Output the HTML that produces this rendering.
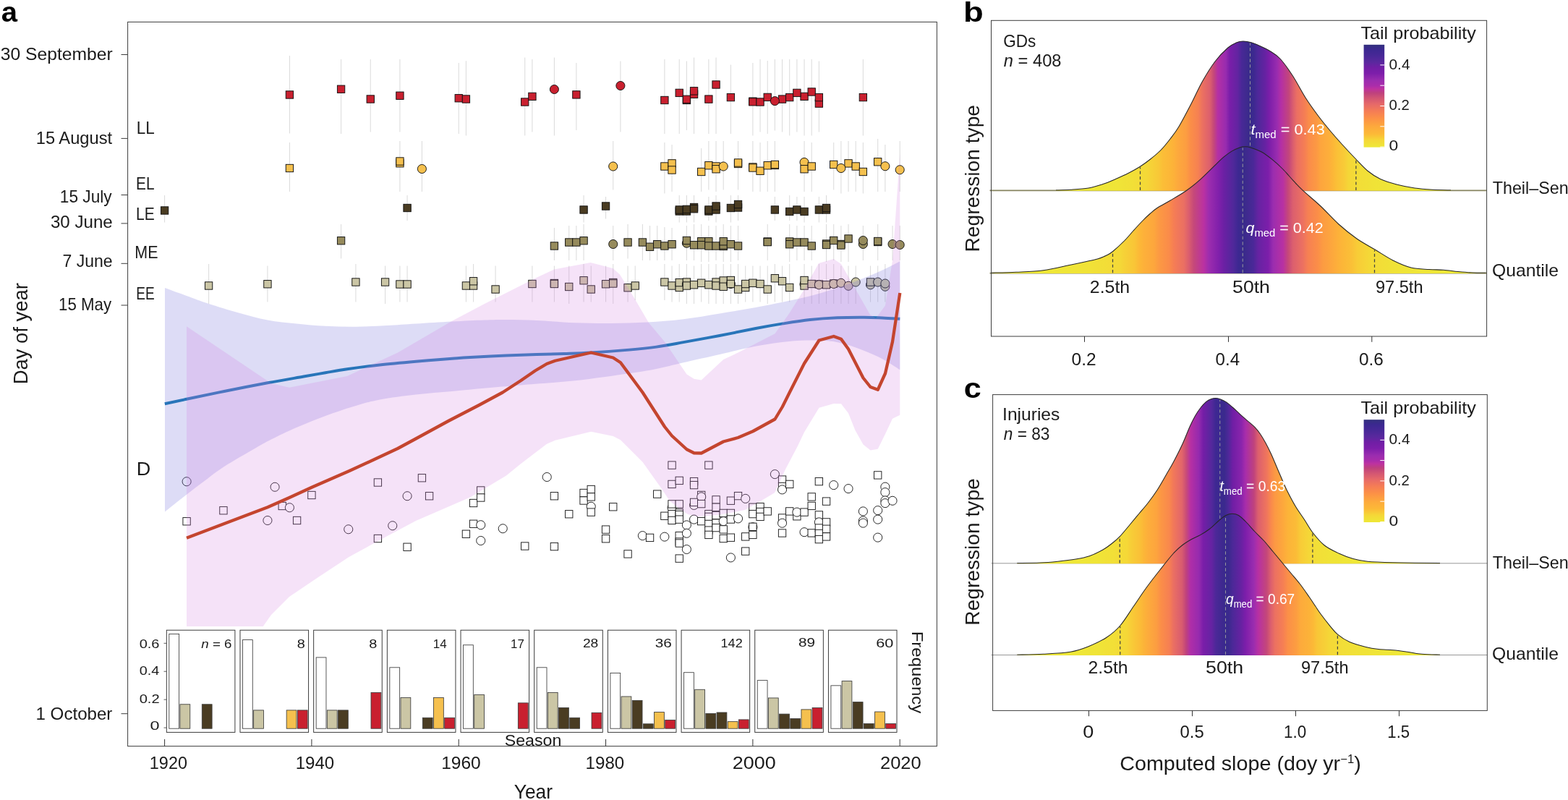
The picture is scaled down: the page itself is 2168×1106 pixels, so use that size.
<!DOCTYPE html>
<html lang="en"><head><meta charset="utf-8"><title>Figure</title>
<style>
html,body{margin:0;padding:0;background:#fff;}
body{width:2168px;height:1106px;overflow:hidden;}
svg{display:block;}
svg text{font-family:"Liberation Sans", sans-serif;fill:#1a1a1a;}
</style></head><body>
<svg width="2168" height="1106" viewBox="0 0 2168 1106">
<rect width="2168" height="1106" fill="#fff"/>
<g id="panelA">
<g stroke="#dcdcdc" stroke-width="1.05" fill="none">
<path d="M400.42,77V184.5M471.58,82V185M512.25,82V182.5M552.91,82V182.5M634.24,87V185M644.41,84.25V187.5M725.73,79.4V187.5M735.9,82V182.5M766.4,79.4V187.5M796.9,87V180M857.89,84.4V182.5M918.89,82V185M939.22,82V185M949.39,84.4V180M959.55,79.4V185M979.88,82V185M990.05,79.4V185M1010.38,89.4V185M1040.88,87V187.5M1051.05,82V182.5M1061.21,84V185M1081.54,82V182.5M1071.38,82V180.6M1091.71,82V187.5M1112.04,82V187.5M1101.88,82V182.5M1122.21,82V187.5M1132.37,84.4V182.5M1193.37,82V187.5M400.42,197V265M552.91,195V265M583.41,195V265M847.73,195V262.5M918.89,197V267.5M929.05,200V265M969.72,205V265M979.88,195V262.5M990.05,195V265M1000.22,195V262.5M1020.55,195V262.5M1040.88,195V265M1051.05,197V265M1061.21,195V265M1071.38,195V265M1112.04,195V265M1122.21,197V265M1152.71,197V262.5M1173.04,195V265M1162.87,195V267.5M1183.2,195V265M1193.37,197V267.5M1213.7,192V265M1223.87,200V265M1244.2,195V265M227.6,270V307.5M563.08,270V305M807.06,270V307.5M837.56,272V302.5M939.22,270V307.5M949.39,270V307.5M959.55,270V307.5M979.88,272V305M990.05,270V307.5M1010.38,270V307.5M1020.55,270V305M1071.38,272V305M1091.71,270V305M1101.88,272V305M1112.04,272V307.5M1132.37,272V307.5M1142.54,270V307.5M471.58,310V357.5M766.4,315V360M786.73,312V360M796.9,312V360M807.06,310V360M847.73,312V360M868.06,310V357.5M888.39,310V360M898.56,312V360M908.72,312V360M918.89,314V360M929.05,315V360M949.39,312V360M959.55,310V360M969.72,310V362M979.88,312V362M990.05,312V360M1000.22,310V362M1010.38,312V362M1020.55,312V360M1061.21,310V360M1091.71,310V362M1101.88,312V360M1112.04,312V360M1122.21,312V360M1142.54,310V362M1162.87,312V362M1152.71,310V360M1173.04,310V362M1193.37,312V360M1213.7,310V360M1234.03,312V360M1244.2,312V360M288.6,365V420M369.92,367.5V417.5M491.92,365V417.5M532.58,367.5V420M552.91,367.5V417.5M563.08,367.5V417.5M644.41,367.5V417.5M654.57,365V417.5M685.07,367.5V417.5M735.9,367.5V417.5M766.4,367.5V417.5M786.73,367.5V420M807.06,365V417.5M817.23,367.5V417.5M837.56,367.5V417.5M847.73,365V420M868.06,367.5V417.5M878.22,367.5V415M918.89,365V415M929.05,367.5V417.5M939.22,365V417.5M949.39,365V420M959.55,367.5V420M969.72,365V417.5M979.88,365V420M990.05,365V420M1000.22,365V420M1010.38,365V420M1020.55,365V420M1030.71,367.5V417.5M1040.88,367.5V417.5M1051.05,367.5V417.5M1061.21,367.5V420M1071.38,365V417.5M1081.54,367.5V417.5M1091.71,365V417.5M1112.04,365V420M1122.21,367.5V420M1132.37,365V420M1142.54,365V420M1152.71,365V420M1162.87,367.5V420M1173.04,367.5V420M1183.2,367.5V420M1203.54,367.5V417.5M1213.7,367.5V417.5M1223.87,365V417.5"/>
</g>
<g fill="#ffffff" fill-opacity="1" stroke="#1c1c1c" stroke-width="0.95">
<circle cx="258.1" cy="665.75" r="6.05"/>
<rect x="252.92" y="715.58" width="10.35" height="10.35"/>
<rect x="303.75" y="700.58" width="10.35" height="10.35"/>
<circle cx="380.09" cy="673.25" r="6.05"/>
<circle cx="369.92" cy="719.5" r="6.05"/>
<rect x="385.08" y="694.33" width="10.35" height="10.35"/>
<circle cx="400.42" cy="701.75" r="6.05"/>
<rect x="405.41" y="714.33" width="10.35" height="10.35"/>
<rect x="425.74" y="679.33" width="10.35" height="10.35"/>
<circle cx="481.75" cy="731.75" r="6.05"/>
<rect x="517.24" y="661.83" width="10.35" height="10.35"/>
<rect x="517.24" y="739.33" width="10.35" height="10.35"/>
<circle cx="542.75" cy="726.75" r="6.05"/>
<rect x="557.9" y="751.08" width="10.35" height="10.35"/>
<circle cx="563.08" cy="685.75" r="6.05"/>
<rect x="578.24" y="655.58" width="10.35" height="10.35"/>
<rect x="588.4" y="680.58" width="10.35" height="10.35"/>
<rect x="639.23" y="733.08" width="10.35" height="10.35"/>
<rect x="649.4" y="690.33" width="10.35" height="10.35"/>
<rect x="649.4" y="719.08" width="10.35" height="10.35"/>
<rect x="659.56" y="672.83" width="10.35" height="10.35"/>
<rect x="659.56" y="682.83" width="10.35" height="10.35"/>
<circle cx="664.74" cy="725.75" r="6.05"/>
<circle cx="664.74" cy="747.5" r="6.05"/>
<circle cx="695.24" cy="730.75" r="6.05"/>
<rect x="720.56" y="749.83" width="10.35" height="10.35"/>
<circle cx="756.23" cy="659.5" r="6.05"/>
<rect x="761.22" y="680.58" width="10.35" height="10.35"/>
<rect x="761.22" y="750.43" width="10.35" height="10.35"/>
<rect x="781.56" y="705.58" width="10.35" height="10.35"/>
<rect x="801.89" y="676.33" width="10.35" height="10.35"/>
<rect x="801.89" y="686.83" width="10.35" height="10.35"/>
<circle cx="817.23" cy="700.25" r="6.05"/>
<rect x="812.05" y="671.33" width="10.35" height="10.35"/>
<rect x="812.05" y="681.73" width="10.35" height="10.35"/>
<rect x="812.05" y="702.93" width="10.35" height="10.35"/>
<rect x="842.55" y="695.58" width="10.35" height="10.35"/>
<rect x="832.39" y="726.93" width="10.35" height="10.35"/>
<rect x="832.39" y="739.58" width="10.35" height="10.35"/>
<rect x="862.88" y="760.73" width="10.35" height="10.35"/>
<rect x="903.55" y="677.93" width="10.35" height="10.35"/>
<circle cx="888.39" cy="740.6" r="6.05"/>
<rect x="893.38" y="738.23" width="10.35" height="10.35"/>
<rect x="913.71" y="708.08" width="10.35" height="10.35"/>
<circle cx="918.89" cy="742.1" r="6.05"/>
<circle cx="929.05" cy="701.9" r="6.05"/>
<rect x="923.88" y="637.93" width="10.35" height="10.35"/>
<rect x="923.88" y="664.23" width="10.35" height="10.35"/>
<rect x="923.88" y="691.73" width="10.35" height="10.35"/>
<rect x="923.88" y="705.43" width="10.35" height="10.35"/>
<rect x="923.88" y="714.23" width="10.35" height="10.35"/>
<rect x="934.05" y="659.23" width="10.35" height="10.35"/>
<rect x="934.05" y="691.73" width="10.35" height="10.35"/>
<rect x="934.05" y="703.83" width="10.35" height="10.35"/>
<rect x="934.05" y="706.33" width="10.35" height="10.35"/>
<rect x="934.05" y="712.93" width="10.35" height="10.35"/>
<rect x="934.05" y="735.43" width="10.35" height="10.35"/>
<rect x="934.05" y="743.83" width="10.35" height="10.35"/>
<rect x="934.05" y="745.83" width="10.35" height="10.35"/>
<rect x="934.05" y="766.93" width="10.35" height="10.35"/>
<circle cx="949.39" cy="725.9" r="6.05"/>
<circle cx="949.39" cy="737.25" r="6.05"/>
<circle cx="949.39" cy="759.5" r="6.05"/>
<rect x="954.38" y="660.43" width="10.35" height="10.35"/>
<rect x="954.38" y="665.43" width="10.35" height="10.35"/>
<circle cx="959.55" cy="698.4" r="6.05"/>
<rect x="954.38" y="689.23" width="10.35" height="10.35"/>
<circle cx="959.55" cy="718.1" r="6.05"/>
<rect x="964.54" y="679.23" width="10.35" height="10.35"/>
<circle cx="969.72" cy="686.9" r="6.05"/>
<rect x="964.54" y="691.43" width="10.35" height="10.35"/>
<rect x="964.54" y="715.43" width="10.35" height="10.35"/>
<rect x="974.71" y="637.93" width="10.35" height="10.35"/>
<rect x="974.71" y="705.43" width="10.35" height="10.35"/>
<rect x="974.71" y="709.23" width="10.35" height="10.35"/>
<rect x="974.71" y="719.23" width="10.35" height="10.35"/>
<rect x="974.71" y="727.93" width="10.35" height="10.35"/>
<rect x="974.71" y="734.23" width="10.35" height="10.35"/>
<rect x="984.88" y="685.73" width="10.35" height="10.35"/>
<rect x="984.88" y="696.08" width="10.35" height="10.35"/>
<rect x="984.88" y="707.33" width="10.35" height="10.35"/>
<rect x="984.88" y="717.93" width="10.35" height="10.35"/>
<rect x="984.88" y="724.43" width="10.35" height="10.35"/>
<rect x="995.04" y="704.23" width="10.35" height="10.35"/>
<circle cx="1000.22" cy="720.6" r="6.05"/>
<rect x="995.04" y="726.73" width="10.35" height="10.35"/>
<rect x="995.04" y="739.33" width="10.35" height="10.35"/>
<rect x="1005.21" y="687.03" width="10.35" height="10.35"/>
<rect x="1005.21" y="704.23" width="10.35" height="10.35"/>
<rect x="1005.21" y="712.83" width="10.35" height="10.35"/>
<rect x="1005.21" y="738.03" width="10.35" height="10.35"/>
<circle cx="1010.38" cy="770.9" r="6.05"/>
<rect x="1015.37" y="680.43" width="10.35" height="10.35"/>
<circle cx="1020.55" cy="716.9" r="6.05"/>
<circle cx="1030.71" cy="689.4" r="6.05"/>
<rect x="1025.54" y="736.73" width="10.35" height="10.35"/>
<rect x="1025.54" y="756.93" width="10.35" height="10.35"/>
<rect x="1035.7" y="696.08" width="10.35" height="10.35"/>
<rect x="1035.7" y="705.43" width="10.35" height="10.35"/>
<circle cx="1040.88" cy="728.75" r="6.05"/>
<rect x="1035.7" y="723.12" width="10.35" height="10.35"/>
<rect x="1035.7" y="734.23" width="10.35" height="10.35"/>
<rect x="1045.87" y="695.43" width="10.35" height="10.35"/>
<rect x="1045.87" y="702.33" width="10.35" height="10.35"/>
<rect x="1045.87" y="709.23" width="10.35" height="10.35"/>
<rect x="1056.04" y="701.73" width="10.35" height="10.35"/>
<circle cx="1071.38" cy="655.6" r="6.05"/>
<rect x="1076.37" y="657.93" width="10.35" height="10.35"/>
<rect x="1076.37" y="667.33" width="10.35" height="10.35"/>
<circle cx="1081.54" cy="676.9" r="6.05"/>
<rect x="1076.37" y="710.83" width="10.35" height="10.35"/>
<circle cx="1081.54" cy="723.2" r="6.05"/>
<rect x="1076.37" y="731.83" width="10.35" height="10.35"/>
<rect x="1086.54" y="664.23" width="10.35" height="10.35"/>
<rect x="1086.54" y="701.73" width="10.35" height="10.35"/>
<rect x="1096.7" y="708.58" width="10.35" height="10.35"/>
<circle cx="1101.88" cy="708.1" r="6.05"/>
<rect x="1106.87" y="702.93" width="10.35" height="10.35"/>
<circle cx="1112.04" cy="735.7" r="6.05"/>
<rect x="1117.03" y="681.73" width="10.35" height="10.35"/>
<rect x="1117.03" y="694.23" width="10.35" height="10.35"/>
<rect x="1117.03" y="731.73" width="10.35" height="10.35"/>
<rect x="1127.2" y="660.43" width="10.35" height="10.35"/>
<rect x="1127.2" y="706.73" width="10.35" height="10.35"/>
<circle cx="1132.37" cy="721.9" r="6.05"/>
<rect x="1127.2" y="724.83" width="10.35" height="10.35"/>
<rect x="1127.2" y="732.33" width="10.35" height="10.35"/>
<rect x="1127.2" y="740.43" width="10.35" height="10.35"/>
<rect x="1137.37" y="687.93" width="10.35" height="10.35"/>
<rect x="1137.37" y="716.73" width="10.35" height="10.35"/>
<rect x="1137.37" y="726.08" width="10.35" height="10.35"/>
<rect x="1137.37" y="736.73" width="10.35" height="10.35"/>
<circle cx="1152.71" cy="670.6" r="6.05"/>
<circle cx="1173.04" cy="675.6" r="6.05"/>
<circle cx="1193.37" cy="706.9" r="6.05"/>
<circle cx="1193.37" cy="720" r="6.05"/>
<circle cx="1193.37" cy="723.1" r="6.05"/>
<rect x="1208.53" y="651.73" width="10.35" height="10.35"/>
<circle cx="1213.7" cy="705.6" r="6.05"/>
<circle cx="1213.7" cy="718.1" r="6.05"/>
<circle cx="1213.7" cy="743.1" r="6.05"/>
<circle cx="1223.87" cy="673.1" r="6.05"/>
<circle cx="1223.87" cy="680.6" r="6.05"/>
<circle cx="1223.87" cy="691.9" r="6.05"/>
<circle cx="1223.87" cy="695.6" r="6.05"/>
<circle cx="1234.03" cy="692.25" r="6.05"/>
</g>
<g fill="#cbc6a5" fill-opacity="1" stroke="#111" stroke-width="0.95">
<rect x="283.42" y="389.82" width="10.35" height="10.35"/>
<rect x="364.75" y="387.57" width="10.35" height="10.35"/>
<rect x="486.74" y="384.82" width="10.35" height="10.35"/>
<rect x="527.41" y="384.82" width="10.35" height="10.35"/>
<rect x="547.74" y="387.82" width="10.35" height="10.35"/>
<rect x="557.9" y="387.82" width="10.35" height="10.35"/>
<rect x="639.23" y="389.82" width="10.35" height="10.35"/>
<rect x="649.4" y="389.82" width="10.35" height="10.35"/>
<rect x="649.4" y="383.57" width="10.35" height="10.35"/>
<rect x="679.9" y="394.82" width="10.35" height="10.35"/>
<rect x="730.73" y="387.32" width="10.35" height="10.35"/>
<rect x="761.22" y="386.32" width="10.35" height="10.35"/>
<rect x="761.22" y="387.32" width="10.35" height="10.35"/>
<rect x="781.56" y="391.32" width="10.35" height="10.35"/>
<rect x="801.89" y="382.57" width="10.35" height="10.35"/>
<rect x="812.05" y="394.82" width="10.35" height="10.35"/>
<rect x="832.39" y="387.57" width="10.35" height="10.35"/>
<rect x="842.55" y="385.32" width="10.35" height="10.35"/>
<rect x="842.55" y="386.82" width="10.35" height="10.35"/>
<rect x="862.88" y="392.57" width="10.35" height="10.35"/>
<rect x="873.05" y="389.82" width="10.35" height="10.35"/>
<rect x="913.71" y="384.82" width="10.35" height="10.35"/>
<rect x="923.88" y="389.82" width="10.35" height="10.35"/>
<rect x="934.05" y="392.32" width="10.35" height="10.35"/>
<rect x="934.05" y="385.43" width="10.35" height="10.35"/>
<circle cx="949.39" cy="393" r="6.05"/>
<rect x="944.21" y="384.82" width="10.35" height="10.35"/>
<rect x="944.21" y="389.82" width="10.35" height="10.35"/>
<rect x="954.38" y="388.57" width="10.35" height="10.35"/>
<rect x="964.54" y="386.07" width="10.35" height="10.35"/>
<rect x="974.71" y="388.57" width="10.35" height="10.35"/>
<rect x="984.88" y="384.82" width="10.35" height="10.35"/>
<rect x="984.88" y="389.82" width="10.35" height="10.35"/>
<rect x="995.04" y="382.82" width="10.35" height="10.35"/>
<rect x="995.04" y="391.07" width="10.35" height="10.35"/>
<circle cx="1010.38" cy="392.5" r="6.05"/>
<rect x="1005.21" y="382.32" width="10.35" height="10.35"/>
<rect x="1005.21" y="387.32" width="10.35" height="10.35"/>
<rect x="1015.37" y="394.82" width="10.35" height="10.35"/>
<rect x="1025.54" y="392.32" width="10.35" height="10.35"/>
<rect x="1025.54" y="387.32" width="10.35" height="10.35"/>
<rect x="1035.7" y="386.07" width="10.35" height="10.35"/>
<rect x="1045.87" y="387.32" width="10.35" height="10.35"/>
<rect x="1056.04" y="394.82" width="10.35" height="10.35"/>
<rect x="1066.2" y="379.57" width="10.35" height="10.35"/>
<rect x="1076.37" y="383.57" width="10.35" height="10.35"/>
<rect x="1086.54" y="392.32" width="10.35" height="10.35"/>
<circle cx="1112.04" cy="393" r="6.05"/>
<rect x="1106.87" y="389.82" width="10.35" height="10.35"/>
<rect x="1106.87" y="382.32" width="10.35" height="10.35"/>
<rect x="1117.03" y="387.32" width="10.35" height="10.35"/>
<rect x="1127.2" y="387.82" width="10.35" height="10.35"/>
<circle cx="1132.37" cy="393.75" r="6.05"/>
<rect x="1137.37" y="388.57" width="10.35" height="10.35"/>
<rect x="1147.53" y="386.82" width="10.35" height="10.35"/>
<circle cx="1152.71" cy="392.5" r="6.05"/>
<circle cx="1162.87" cy="391.25" r="6.05"/>
<circle cx="1173.04" cy="395.25" r="6.05"/>
<circle cx="1183.2" cy="390" r="6.05"/>
<circle cx="1203.54" cy="393.75" r="6.05"/>
<rect x="1198.36" y="384.82" width="10.35" height="10.35"/>
<circle cx="1213.7" cy="390" r="6.05"/>
<circle cx="1223.87" cy="396.25" r="6.05"/>
<circle cx="1223.87" cy="392" r="6.05"/>
</g>
<g fill="#968b5c" fill-opacity="1" stroke="#111" stroke-width="0.95">
<rect x="466.41" y="327.57" width="10.35" height="10.35"/>
<rect x="761.22" y="334.82" width="10.35" height="10.35"/>
<rect x="781.56" y="329.82" width="10.35" height="10.35"/>
<rect x="791.72" y="329.82" width="10.35" height="10.35"/>
<rect x="801.89" y="327.57" width="10.35" height="10.35"/>
<circle cx="847.73" cy="337.5" r="6.05"/>
<rect x="862.88" y="329.82" width="10.35" height="10.35"/>
<rect x="883.22" y="329.82" width="10.35" height="10.35"/>
<rect x="893.38" y="336.07" width="10.35" height="10.35"/>
<rect x="903.55" y="332.57" width="10.35" height="10.35"/>
<rect x="913.71" y="334.82" width="10.35" height="10.35"/>
<rect x="923.88" y="332.57" width="10.35" height="10.35"/>
<circle cx="949.39" cy="336.25" r="6.05"/>
<rect x="944.21" y="327.32" width="10.35" height="10.35"/>
<rect x="954.38" y="333.57" width="10.35" height="10.35"/>
<rect x="964.54" y="328.57" width="10.35" height="10.35"/>
<rect x="964.54" y="333.57" width="10.35" height="10.35"/>
<rect x="974.71" y="328.57" width="10.35" height="10.35"/>
<rect x="974.71" y="334.82" width="10.35" height="10.35"/>
<rect x="984.88" y="334.82" width="10.35" height="10.35"/>
<rect x="995.04" y="335.32" width="10.35" height="10.35"/>
<rect x="995.04" y="333.82" width="10.35" height="10.35"/>
<rect x="995.04" y="328.57" width="10.35" height="10.35"/>
<rect x="1005.21" y="332.57" width="10.35" height="10.35"/>
<rect x="1015.37" y="334.82" width="10.35" height="10.35"/>
<rect x="1056.04" y="328.82" width="10.35" height="10.35"/>
<rect x="1056.04" y="329.43" width="10.35" height="10.35"/>
<rect x="1086.54" y="328.82" width="10.35" height="10.35"/>
<rect x="1086.54" y="332.57" width="10.35" height="10.35"/>
<rect x="1096.7" y="329.82" width="10.35" height="10.35"/>
<rect x="1106.87" y="329.82" width="10.35" height="10.35"/>
<rect x="1117.03" y="334.82" width="10.35" height="10.35"/>
<rect x="1137.37" y="331.82" width="10.35" height="10.35"/>
<rect x="1137.37" y="333.32" width="10.35" height="10.35"/>
<rect x="1157.7" y="332.32" width="10.35" height="10.35"/>
<rect x="1157.7" y="333.82" width="10.35" height="10.35"/>
<rect x="1147.53" y="327.32" width="10.35" height="10.35"/>
<rect x="1167.86" y="324.82" width="10.35" height="10.35"/>
<circle cx="1193.37" cy="337.5" r="6.05"/>
<circle cx="1193.37" cy="332.5" r="6.05"/>
<rect x="1208.53" y="329.32" width="10.35" height="10.35"/>
<rect x="1208.53" y="328.32" width="10.35" height="10.35"/>
<circle cx="1234.03" cy="337.5" r="6.05"/>
<circle cx="1244.2" cy="338.5" r="6.05"/>
</g>
<g fill="#4a3c22" fill-opacity="1" stroke="#111" stroke-width="0.95">
<rect x="222.42" y="285.82" width="10.35" height="10.35"/>
<rect x="557.9" y="282.32" width="10.35" height="10.35"/>
<rect x="801.89" y="284.82" width="10.35" height="10.35"/>
<rect x="832.39" y="279.82" width="10.35" height="10.35"/>
<rect x="934.05" y="286.82" width="10.35" height="10.35"/>
<rect x="934.05" y="284.82" width="10.35" height="10.35"/>
<rect x="944.21" y="286.82" width="10.35" height="10.35"/>
<rect x="944.21" y="284.22" width="10.35" height="10.35"/>
<rect x="954.38" y="281.32" width="10.35" height="10.35"/>
<rect x="954.38" y="283.57" width="10.35" height="10.35"/>
<rect x="974.71" y="286.82" width="10.35" height="10.35"/>
<rect x="974.71" y="284.82" width="10.35" height="10.35"/>
<rect x="984.88" y="284.82" width="10.35" height="10.35"/>
<rect x="984.88" y="279.82" width="10.35" height="10.35"/>
<rect x="1005.21" y="282.32" width="10.35" height="10.35"/>
<rect x="1015.37" y="281.82" width="10.35" height="10.35"/>
<rect x="1015.37" y="277.32" width="10.35" height="10.35"/>
<rect x="1066.2" y="284.82" width="10.35" height="10.35"/>
<rect x="1086.54" y="287.32" width="10.35" height="10.35"/>
<rect x="1096.7" y="284.82" width="10.35" height="10.35"/>
<rect x="1106.87" y="287.32" width="10.35" height="10.35"/>
<rect x="1127.2" y="284.82" width="10.35" height="10.35"/>
<rect x="1137.37" y="284.82" width="10.35" height="10.35"/>
<rect x="1137.37" y="282.32" width="10.35" height="10.35"/>
</g>
<g fill="#f5c04e" fill-opacity="1" stroke="#111" stroke-width="0.95">
<rect x="395.25" y="227.32" width="10.35" height="10.35"/>
<rect x="547.74" y="220.57" width="10.35" height="10.35"/>
<rect x="547.74" y="217.82" width="10.35" height="10.35"/>
<circle cx="583.41" cy="233.5" r="6.05"/>
<circle cx="847.73" cy="230" r="6.05"/>
<rect x="913.71" y="224.82" width="10.35" height="10.35"/>
<rect x="923.88" y="220.72" width="10.35" height="10.35"/>
<rect x="923.88" y="229.82" width="10.35" height="10.35"/>
<rect x="964.54" y="232.32" width="10.35" height="10.35"/>
<rect x="974.71" y="223.57" width="10.35" height="10.35"/>
<rect x="984.88" y="224.82" width="10.35" height="10.35"/>
<rect x="984.88" y="228.57" width="10.35" height="10.35"/>
<circle cx="1000.22" cy="230" r="6.05"/>
<rect x="1015.37" y="221.32" width="10.35" height="10.35"/>
<rect x="1015.37" y="219.82" width="10.35" height="10.35"/>
<rect x="1035.7" y="225.82" width="10.35" height="10.35"/>
<rect x="1035.7" y="226.82" width="10.35" height="10.35"/>
<rect x="1045.87" y="231.07" width="10.35" height="10.35"/>
<rect x="1056.04" y="223.57" width="10.35" height="10.35"/>
<rect x="1066.2" y="223.32" width="10.35" height="10.35"/>
<rect x="1066.2" y="222.32" width="10.35" height="10.35"/>
<circle cx="1112.04" cy="224.4" r="6.05"/>
<rect x="1106.87" y="228.57" width="10.35" height="10.35"/>
<rect x="1117.03" y="224.82" width="10.35" height="10.35"/>
<rect x="1147.53" y="222.32" width="10.35" height="10.35"/>
<rect x="1167.86" y="220.72" width="10.35" height="10.35"/>
<circle cx="1162.87" cy="232.5" r="6.05"/>
<rect x="1178.03" y="224.82" width="10.35" height="10.35"/>
<rect x="1188.19" y="232.32" width="10.35" height="10.35"/>
<rect x="1208.53" y="218.57" width="10.35" height="10.35"/>
<circle cx="1223.87" cy="229.75" r="6.05"/>
<circle cx="1244.2" cy="234.75" r="6.05"/>
</g>
<g fill="#c9202f" fill-opacity="1" stroke="#111" stroke-width="0.95">
<rect x="395.25" y="125.83" width="10.35" height="10.35"/>
<rect x="466.41" y="118.08" width="10.35" height="10.35"/>
<rect x="507.07" y="131.82" width="10.35" height="10.35"/>
<rect x="547.74" y="127.08" width="10.35" height="10.35"/>
<rect x="629.07" y="130.57" width="10.35" height="10.35"/>
<rect x="639.23" y="131.82" width="10.35" height="10.35"/>
<rect x="720.56" y="135.82" width="10.35" height="10.35"/>
<rect x="730.73" y="128.22" width="10.35" height="10.35"/>
<circle cx="766.4" cy="123.5" r="6.05"/>
<rect x="791.72" y="125.73" width="10.35" height="10.35"/>
<circle cx="857.89" cy="118.5" r="6.05"/>
<rect x="913.71" y="133.32" width="10.35" height="10.35"/>
<rect x="934.05" y="123.23" width="10.35" height="10.35"/>
<rect x="944.21" y="133.32" width="10.35" height="10.35"/>
<rect x="944.21" y="132.12" width="10.35" height="10.35"/>
<rect x="954.38" y="125.13" width="10.35" height="10.35"/>
<rect x="954.38" y="120.62" width="10.35" height="10.35"/>
<rect x="974.71" y="131.92" width="10.35" height="10.35"/>
<rect x="984.88" y="111.83" width="10.35" height="10.35"/>
<rect x="1005.21" y="129.42" width="10.35" height="10.35"/>
<rect x="1035.7" y="135.02" width="10.35" height="10.35"/>
<rect x="1035.7" y="135.62" width="10.35" height="10.35"/>
<rect x="1045.87" y="135.82" width="10.35" height="10.35"/>
<rect x="1056.04" y="129.22" width="10.35" height="10.35"/>
<rect x="1076.37" y="131.92" width="10.35" height="10.35"/>
<circle cx="1071.38" cy="139.6" r="6.05"/>
<rect x="1086.54" y="129.42" width="10.35" height="10.35"/>
<rect x="1106.87" y="128.22" width="10.35" height="10.35"/>
<rect x="1096.7" y="123.23" width="10.35" height="10.35"/>
<rect x="1117.03" y="121.83" width="10.35" height="10.35"/>
<rect x="1127.2" y="137.92" width="10.35" height="10.35"/>
<rect x="1127.2" y="129.42" width="10.35" height="10.35"/>
<rect x="1188.19" y="129.42" width="10.35" height="10.35"/>
</g>
<clipPath id="clipA"><rect x="176.6" y="30.4" width="1118.8" height="835.6"/></clipPath>
<path d="M228,398C233,399.83 247.88,405.33 258,409C268.12,412.67 276.75,416.08 288.75,420C300.75,423.92 316.46,428.75 330,432.5C343.54,436.25 356.67,440 370,442.5C383.33,445 396.67,446.12 410,447.5C423.33,448.88 436.33,450.04 450,450.75C463.67,451.46 477.83,451.88 492,451.75C506.17,451.62 521.17,450.71 535,450C548.83,449.29 560,448.42 575,447.5C590,446.58 609.17,445.33 625,444.5C640.83,443.67 657.5,442.92 670,442.5C682.5,442.08 688,441.92 700,442C712,442.08 726.17,442.29 742,443C757.83,443.71 777.83,445.58 795,446.25C812.17,446.92 828.33,447.12 845,447C861.67,446.88 878.33,446.47 895,445.5C911.67,444.53 928.33,443.22 945,441.2C961.67,439.18 978.33,436.1 995,433.4C1011.67,430.7 1028.33,428.07 1045,425C1061.67,421.93 1082.5,417.62 1095,415C1107.5,412.38 1112.17,411.3 1120,409.3C1127.83,407.3 1134,405.47 1142,403C1150,400.53 1159.5,397.5 1168,394.5C1176.5,391.5 1184.33,388.5 1193,385C1201.67,381.5 1211.45,377.46 1220,373.5C1228.55,369.54 1240.25,363.29 1244.3,361.25L1244.3,511.25C1240.25,508.75 1228.22,500.62 1220,496.25C1211.78,491.88 1203.33,488.33 1195,485C1186.67,481.67 1178.33,478.54 1170,476.25C1161.67,473.96 1155.42,472.17 1145,471.25C1134.58,470.33 1120,470.21 1107.5,470.75C1095,471.29 1082.5,472.75 1070,474.5C1057.5,476.25 1045,478.67 1032.5,481.25C1020,483.83 1009.58,486.67 995,490C980.42,493.33 959.58,497.92 945,501.25C930.42,504.58 920,507.5 907.5,510C895,512.5 888.75,513.54 870,516.25C851.25,518.96 820,523.54 795,526.25C770,528.96 740.5,530.79 720,532.5C699.5,534.21 687.83,535.08 672,536.5C656.17,537.92 641.17,539.5 625,541C608.83,542.5 591.67,543.58 575,545.5C558.33,547.42 539.67,549.67 525,552.5C510.33,555.33 499.5,558.75 487,562.5C474.5,566.25 462.83,570.25 450,575C437.17,579.75 422.5,585.58 410,591C397.5,596.42 384.58,602.67 375,607.5C365.42,612.33 363.33,613.75 352.5,620C341.67,626.25 321.42,637.67 310,645C298.58,652.33 292.67,657.54 284,664C275.33,670.46 267.33,676.5 258,683.75C248.67,691 233,703.54 228,707.5Z" fill="#7a78dc" fill-opacity="0.26"/>
<path d="M227.8,558.25C232.83,557.17 244.3,554.62 258,551.75C271.7,548.88 291.33,544.75 310,541C328.67,537.25 351.67,532.67 370,529.25C388.33,525.83 406.67,522.83 420,520.5C433.33,518.17 440,516.96 450,515.25C460,513.54 467.5,512.04 480,510.25C492.5,508.46 509.17,506.25 525,504.5C540.83,502.75 558.33,501.21 575,499.75C591.67,498.29 612.5,496.71 625,495.75C637.5,494.79 637.5,494.71 650,494C662.5,493.29 684.67,492.17 700,491.5C715.33,490.83 728.67,490.42 742,490C755.33,489.58 767.5,489.42 780,489C792.5,488.58 802,488.4 817,487.5C832,486.6 854.92,484.92 870,483.6C885.08,482.28 895,481.33 907.5,479.6C920,477.87 930.42,475.8 945,473.2C959.58,470.6 978.33,467.2 995,464C1011.67,460.8 1030.42,456.77 1045,454C1059.58,451.23 1070,449.4 1082.5,447.4C1095,445.4 1107.5,443.36 1120,442C1132.5,440.64 1145,439.79 1157.5,439.25C1170,438.71 1184.58,438.71 1195,438.75C1205.42,438.79 1211.78,439.17 1220,439.5C1228.22,439.83 1240.25,440.54 1244.3,440.75" fill="none" stroke="#2875b9" stroke-width="3.9" stroke-linecap="butt"/>
<path d="M258,451.25L375,530L400,535.75L480,520L550,487.5L625,443.75L670,420L742,383.75L766,372.5L807,364.75L816.5,363.1L847.5,370.9L857,379.4L878,413.75L897,446.25L919,472.5L949.5,517.5L959.5,523.75L969.75,525.5L1000.25,497L1020.5,487.5L1071.5,461.25L1091.75,432.5L1112,400L1132,364L1152.6,358.1L1163,365L1183,400L1203,435L1211,440L1224,422.5L1234,360L1240.6,266L1244.3,212L1244.3,573.75L1234,578.75L1224,600L1213.75,620.75L1203.5,622.5L1193.5,614.5L1182.5,595L1173,571.25L1163,558.25L1152.75,558L1132.5,563.75L1112,597.5L1102.5,617.5L1086,648.75L1077.5,667.5L1071,681.25L1050,693.75L1030,705L1010,709L991,712L964,714L951,711L939,703L926,692.5L915,676L888.5,638.75L858,608.25L847.75,603L817.25,596.75L767.5,608.75L756,613.75L720,641.25L700,657.5L650,687.5L612,704L575,720L530,744L482.5,770L440,798L400,825L375,850L363.75,866L258,866Z" fill="#d27bdf" fill-opacity="0.22" stroke-linejoin="round"/>
<path d="M258,743.75L310,724L370,701.25L400,688L431,673.75L482.5,651.25L520,634L550,620L575,606.5L620,582L662.5,560L695,542.5L720,526.25L740,512.5L756,503L767.5,498.75L817.2,487.5L847.7,494.5L858,501.25L888.5,542.5L919,590L929,602.5L949.5,621.25L959.5,626.25L969.75,626.5L1000.25,610.5L1020.5,605L1041,596.25L1071.5,579.5L1081.75,562.5L1091.75,542.5L1112,502.5L1132.5,470.5L1152.75,465L1163,468.75L1173,482.5L1193.5,522.5L1203.5,535L1213.75,538.75L1224,516.25L1234,472.5L1244.3,405" fill="none" stroke="#c4452f" stroke-width="4.3" stroke-linejoin="round"/>
<rect x="176.6" y="30.4" width="1118.8" height="1001.2" fill="none" stroke="#3d3d3d" stroke-width="1"/>
<path d="M167.5,75.5H176.6M167.5,191.4H176.6M167.5,269.5H176.6M167.5,308.9H176.6M167.5,364.3H176.6M167.5,422H176.6M167.5,986.7H176.6" stroke="#3d3d3d" stroke-width="1" fill="none"/>
<text font-size="24" textLength="155.1" lengthAdjust="spacingAndGlyphs" x="0.7" y="82.9">30 September</text>
<text font-size="24" textLength="105.38" lengthAdjust="spacingAndGlyphs" x="49.75" y="198.5">15 August</text>
<text font-size="24" textLength="71.81" lengthAdjust="spacingAndGlyphs" x="82.83" y="280.2">15 July</text>
<text font-size="24" textLength="85.84" lengthAdjust="spacingAndGlyphs" x="69.92" y="315">30 June</text>
<text font-size="24" textLength="69.11" lengthAdjust="spacingAndGlyphs" x="86.5" y="369.2">7 June</text>
<text font-size="24" textLength="73.1" lengthAdjust="spacingAndGlyphs" x="81.06" y="428.7">15 May</text>
<text font-size="24" textLength="105.87" lengthAdjust="spacingAndGlyphs" x="49.52" y="994.5">1 October</text>
<path d="M227.6,1022V1031.6M430.92,1022V1031.6M634.24,1022V1031.6M837.56,1022V1031.6M1040.88,1022V1031.6M1244.2,1022V1031.6" stroke="#333" stroke-width="1" fill="none"/>
<text font-size="23.6" textLength="52.05" lengthAdjust="spacingAndGlyphs" x="206.87" y="1063.4">1920</text>
<text font-size="23.6" textLength="53.42" lengthAdjust="spacingAndGlyphs" x="408.72" y="1063.4">1940</text>
<text font-size="23.6" textLength="54.58" lengthAdjust="spacingAndGlyphs" x="610.18" y="1063.4">1960</text>
<text font-size="23.6" textLength="53.63" lengthAdjust="spacingAndGlyphs" x="809.61" y="1063.4">1980</text>
<text font-size="23.6" textLength="59.94" lengthAdjust="spacingAndGlyphs" x="1012.82" y="1063.4">2000</text>
<text font-size="23.6" textLength="56.72" lengthAdjust="spacingAndGlyphs" x="1216.99" y="1063.4">2020</text>
<text font-size="27.6" textLength="53.22" lengthAdjust="spacingAndGlyphs" x="710.8" y="1104.3">Year</text>
<text font-size="27.6" textLength="140.13" lengthAdjust="spacingAndGlyphs" transform="translate(37.6,531.23) rotate(-90)">Day of year</text>
<text font-size="23.4" textLength="25.03" lengthAdjust="spacingAndGlyphs" x="188.7" y="184.6">LL</text>
<text font-size="23.4" textLength="25.51" lengthAdjust="spacingAndGlyphs" x="188.03" y="262.3">EL</text>
<text font-size="23.4" textLength="25.76" lengthAdjust="spacingAndGlyphs" x="188.01" y="303.8">LE</text>
<text font-size="23.4" textLength="32.18" lengthAdjust="spacingAndGlyphs" x="186.28" y="356.8">ME</text>
<text font-size="23.4" textLength="25.5" lengthAdjust="spacingAndGlyphs" x="188.17" y="413.8">EE</text>
<text font-size="26" textLength="19.54" lengthAdjust="spacingAndGlyphs" x="188.79" y="657">D</text>
<text font-size="38.5" textLength="22.25" lengthAdjust="spacingAndGlyphs" x="1.83" y="30" font-weight="bold" style="fill:#000">a</text>
<rect x="230.3" y="871.2" width="94.6" height="141.2" fill="#fff" stroke="#333" stroke-width="0.95"/>
<rect x="233.8" y="876.47" width="13.8" height="130.73" fill="#ffffff" stroke="#3c3c3c" stroke-width="0.85"/>
<rect x="248.97" y="973.77" width="13.8" height="33.43" fill="#cbc6a5" stroke="#3c3c3c" stroke-width="0.85"/>
<rect x="279.31" y="973.77" width="13.8" height="33.43" fill="#4a3c22" stroke="#3c3c3c" stroke-width="0.85"/>
<text font-size="17" textLength="42.16" lengthAdjust="spacingAndGlyphs" x="278.36" y="896"><tspan font-style="italic">n</tspan> = 6</text>
<rect x="331.98" y="871.2" width="94.6" height="141.2" fill="#fff" stroke="#333" stroke-width="0.95"/>
<rect x="335.48" y="884.58" width="13.8" height="122.62" fill="#ffffff" stroke="#3c3c3c" stroke-width="0.85"/>
<rect x="350.65" y="981.88" width="13.8" height="25.32" fill="#cbc6a5" stroke="#3c3c3c" stroke-width="0.85"/>
<rect x="396.16" y="981.88" width="13.8" height="25.32" fill="#f5c04e" stroke="#3c3c3c" stroke-width="0.85"/>
<rect x="411.33" y="981.88" width="13.8" height="25.32" fill="#c9202f" stroke="#3c3c3c" stroke-width="0.85"/>
<text font-size="17" textLength="11.11" lengthAdjust="spacingAndGlyphs" x="410.72" y="896">8</text>
<rect x="433.66" y="871.2" width="94.6" height="141.2" fill="#fff" stroke="#333" stroke-width="0.95"/>
<rect x="437.16" y="908.9" width="13.8" height="98.3" fill="#ffffff" stroke="#3c3c3c" stroke-width="0.85"/>
<rect x="452.33" y="981.88" width="13.8" height="25.32" fill="#cbc6a5" stroke="#3c3c3c" stroke-width="0.85"/>
<rect x="467.5" y="981.88" width="13.8" height="25.32" fill="#4a3c22" stroke="#3c3c3c" stroke-width="0.85"/>
<rect x="513.01" y="957.55" width="13.8" height="49.65" fill="#c9202f" stroke="#3c3c3c" stroke-width="0.85"/>
<text font-size="17" textLength="11.11" lengthAdjust="spacingAndGlyphs" x="510.32" y="895.8">8</text>
<rect x="535.34" y="871.2" width="94.6" height="141.2" fill="#fff" stroke="#333" stroke-width="0.95"/>
<rect x="538.84" y="922.8" width="13.8" height="84.4" fill="#ffffff" stroke="#3c3c3c" stroke-width="0.85"/>
<rect x="554.01" y="964.5" width="13.8" height="42.7" fill="#cbc6a5" stroke="#3c3c3c" stroke-width="0.85"/>
<rect x="584.35" y="992.3" width="13.8" height="14.9" fill="#4a3c22" stroke="#3c3c3c" stroke-width="0.85"/>
<rect x="599.52" y="964.5" width="13.8" height="42.7" fill="#f5c04e" stroke="#3c3c3c" stroke-width="0.85"/>
<rect x="614.69" y="992.3" width="13.8" height="14.9" fill="#c9202f" stroke="#3c3c3c" stroke-width="0.85"/>
<text font-size="17" textLength="18.96" lengthAdjust="spacingAndGlyphs" x="598.85" y="895.8">14</text>
<rect x="637.02" y="871.2" width="94.6" height="141.2" fill="#fff" stroke="#333" stroke-width="0.95"/>
<rect x="640.52" y="891.73" width="13.8" height="115.47" fill="#ffffff" stroke="#3c3c3c" stroke-width="0.85"/>
<rect x="655.69" y="960.41" width="13.8" height="46.79" fill="#cbc6a5" stroke="#3c3c3c" stroke-width="0.85"/>
<rect x="716.37" y="971.86" width="13.8" height="35.34" fill="#c9202f" stroke="#3c3c3c" stroke-width="0.85"/>
<text font-size="17" textLength="18.83" lengthAdjust="spacingAndGlyphs" x="706.06" y="895.5">17</text>
<rect x="738.7" y="871.2" width="94.6" height="141.2" fill="#fff" stroke="#333" stroke-width="0.95"/>
<rect x="742.2" y="922.8" width="13.8" height="84.4" fill="#ffffff" stroke="#3c3c3c" stroke-width="0.85"/>
<rect x="757.37" y="957.55" width="13.8" height="49.65" fill="#cbc6a5" stroke="#3c3c3c" stroke-width="0.85"/>
<rect x="772.54" y="978.4" width="13.8" height="28.8" fill="#4a3c22" stroke="#3c3c3c" stroke-width="0.85"/>
<rect x="787.71" y="992.3" width="13.8" height="14.9" fill="#4a3c22" stroke="#3c3c3c" stroke-width="0.85"/>
<rect x="818.05" y="985.35" width="13.8" height="21.85" fill="#c9202f" stroke="#3c3c3c" stroke-width="0.85"/>
<text font-size="17" textLength="21.44" lengthAdjust="spacingAndGlyphs" x="805.91" y="894.8">28</text>
<rect x="840.38" y="871.2" width="94.6" height="141.2" fill="#fff" stroke="#333" stroke-width="0.95"/>
<rect x="843.88" y="930.52" width="13.8" height="76.68" fill="#ffffff" stroke="#3c3c3c" stroke-width="0.85"/>
<rect x="859.05" y="962.96" width="13.8" height="44.24" fill="#cbc6a5" stroke="#3c3c3c" stroke-width="0.85"/>
<rect x="874.22" y="968.36" width="13.8" height="38.84" fill="#4a3c22" stroke="#3c3c3c" stroke-width="0.85"/>
<rect x="889.39" y="1000.79" width="13.8" height="6.41" fill="#4a3c22" stroke="#3c3c3c" stroke-width="0.85"/>
<rect x="904.56" y="984.58" width="13.8" height="22.62" fill="#f5c04e" stroke="#3c3c3c" stroke-width="0.85"/>
<rect x="919.73" y="995.39" width="13.8" height="11.81" fill="#c9202f" stroke="#3c3c3c" stroke-width="0.85"/>
<text font-size="17" textLength="23.07" lengthAdjust="spacingAndGlyphs" x="905.84" y="894.8">36</text>
<rect x="942.06" y="871.2" width="94.6" height="141.2" fill="#fff" stroke="#333" stroke-width="0.95"/>
<rect x="945.56" y="929.72" width="13.8" height="77.48" fill="#ffffff" stroke="#3c3c3c" stroke-width="0.85"/>
<rect x="960.73" y="953.27" width="13.8" height="53.93" fill="#cbc6a5" stroke="#3c3c3c" stroke-width="0.85"/>
<rect x="975.9" y="986.55" width="13.8" height="20.65" fill="#4a3c22" stroke="#3c3c3c" stroke-width="0.85"/>
<rect x="991.07" y="984.99" width="13.8" height="22.21" fill="#4a3c22" stroke="#3c3c3c" stroke-width="0.85"/>
<rect x="1006.24" y="997.64" width="13.8" height="9.56" fill="#f5c04e" stroke="#3c3c3c" stroke-width="0.85"/>
<rect x="1021.41" y="994.91" width="13.8" height="12.29" fill="#c9202f" stroke="#3c3c3c" stroke-width="0.85"/>
<text font-size="17" textLength="30.15" lengthAdjust="spacingAndGlyphs" x="996.57" y="894.8">142</text>
<rect x="1043.74" y="871.2" width="94.6" height="141.2" fill="#fff" stroke="#333" stroke-width="0.95"/>
<rect x="1047.24" y="940.62" width="13.8" height="66.58" fill="#ffffff" stroke="#3c3c3c" stroke-width="0.85"/>
<rect x="1062.41" y="964.94" width="13.8" height="42.26" fill="#cbc6a5" stroke="#3c3c3c" stroke-width="0.85"/>
<rect x="1077.58" y="987.13" width="13.8" height="20.07" fill="#4a3c22" stroke="#3c3c3c" stroke-width="0.85"/>
<rect x="1092.75" y="993.55" width="13.8" height="13.65" fill="#4a3c22" stroke="#3c3c3c" stroke-width="0.85"/>
<rect x="1107.92" y="980.9" width="13.8" height="26.3" fill="#f5c04e" stroke="#3c3c3c" stroke-width="0.85"/>
<rect x="1123.09" y="978.57" width="13.8" height="28.63" fill="#c9202f" stroke="#3c3c3c" stroke-width="0.85"/>
<text font-size="17" textLength="23.07" lengthAdjust="spacingAndGlyphs" x="1104.08" y="893.6">89</text>
<rect x="1145.42" y="871.2" width="94.6" height="141.2" fill="#fff" stroke="#333" stroke-width="0.95"/>
<rect x="1148.92" y="947.82" width="13.8" height="59.38" fill="#ffffff" stroke="#3c3c3c" stroke-width="0.85"/>
<rect x="1164.09" y="941.59" width="13.8" height="65.61" fill="#cbc6a5" stroke="#3c3c3c" stroke-width="0.85"/>
<rect x="1179.26" y="970.59" width="13.8" height="36.61" fill="#4a3c22" stroke="#3c3c3c" stroke-width="0.85"/>
<rect x="1194.43" y="1000.56" width="13.8" height="6.64" fill="#4a3c22" stroke="#3c3c3c" stroke-width="0.85"/>
<rect x="1209.6" y="984.02" width="13.8" height="23.18" fill="#f5c04e" stroke="#3c3c3c" stroke-width="0.85"/>
<rect x="1224.77" y="1000.56" width="13.8" height="6.64" fill="#c9202f" stroke="#3c3c3c" stroke-width="0.85"/>
<text font-size="17" textLength="24.16" lengthAdjust="spacingAndGlyphs" x="1211.28" y="895.2">60</text>
<path d="M226.5,1006.1H230.3M226.5,967.18H230.3M226.5,928.26H230.3M226.5,889.34H230.3" stroke="#4d4d4d" stroke-width="0.9" fill="none"/>
<text font-size="17" textLength="13.03" lengthAdjust="spacingAndGlyphs" x="207.54" y="1008.9">0</text>
<text font-size="17" textLength="27.99" lengthAdjust="spacingAndGlyphs" x="192.66" y="972.4">0.2</text>
<text font-size="17" textLength="27.52" lengthAdjust="spacingAndGlyphs" x="192.67" y="933">0.4</text>
<text font-size="17" textLength="27.83" lengthAdjust="spacingAndGlyphs" x="192.66" y="896">0.6</text>
<text font-size="21.5" textLength="78.67" lengthAdjust="spacingAndGlyphs" x="697.72" y="1030.8">Season</text>
<text font-size="21.5" textLength="113.71" lengthAdjust="spacingAndGlyphs" transform="translate(1260.6,872.64) rotate(90)">Frequency</text>
</g>
<g id="panelB">
<path d="M1368.5,263.3H2055.6" stroke="#86845f" stroke-width="1.8" fill="none"/>
<path d="M1368.5,377.55H2055.6" stroke="#86845f" stroke-width="1.8" fill="none"/>
<linearGradient id="rg0" gradientUnits="userSpaceOnUse" x1="1460" y1="0" x2="2006" y2="0">
<stop offset="0" stop-color="#eee837"/>
<stop offset="0.01" stop-color="#eee837"/>
<stop offset="0.03" stop-color="#eee837"/>
<stop offset="0.04" stop-color="#eee837"/>
<stop offset="0.06" stop-color="#eee837"/>
<stop offset="0.07" stop-color="#eee837"/>
<stop offset="0.09" stop-color="#eee737"/>
<stop offset="0.1" stop-color="#eee737"/>
<stop offset="0.11" stop-color="#efe637"/>
<stop offset="0.13" stop-color="#efe637"/>
<stop offset="0.14" stop-color="#efe537"/>
<stop offset="0.16" stop-color="#f0e437"/>
<stop offset="0.17" stop-color="#f0e237"/>
<stop offset="0.19" stop-color="#f1e037"/>
<stop offset="0.2" stop-color="#f2de37"/>
<stop offset="0.21" stop-color="#f3dc37"/>
<stop offset="0.23" stop-color="#f4d837"/>
<stop offset="0.24" stop-color="#f6d237"/>
<stop offset="0.26" stop-color="#f8c837"/>
<stop offset="0.27" stop-color="#fbbe37"/>
<stop offset="0.29" stop-color="#fcb638"/>
<stop offset="0.3" stop-color="#fdb03a"/>
<stop offset="0.31" stop-color="#fda83d"/>
<stop offset="0.33" stop-color="#fc9d41"/>
<stop offset="0.34" stop-color="#fb8f47"/>
<stop offset="0.36" stop-color="#f68152"/>
<stop offset="0.37" stop-color="#ec7260"/>
<stop offset="0.39" stop-color="#dc5f6e"/>
<stop offset="0.4" stop-color="#c4477a"/>
<stop offset="0.41" stop-color="#b430a5"/>
<stop offset="0.43" stop-color="#982caf"/>
<stop offset="0.44" stop-color="#7a1ea9"/>
<stop offset="0.46" stop-color="#6324a1"/>
<stop offset="0.47" stop-color="#492897"/>
<stop offset="0.49" stop-color="#392b8a"/>
<stop offset="0.5" stop-color="#3b298f"/>
<stop offset="0.51" stop-color="#4c2899"/>
<stop offset="0.53" stop-color="#6622a2"/>
<stop offset="0.54" stop-color="#7b1ea9"/>
<stop offset="0.56" stop-color="#992caf"/>
<stop offset="0.57" stop-color="#b42fa5"/>
<stop offset="0.59" stop-color="#c3467b"/>
<stop offset="0.6" stop-color="#da5d6f"/>
<stop offset="0.61" stop-color="#eb6f63"/>
<stop offset="0.63" stop-color="#f57e54"/>
<stop offset="0.64" stop-color="#fa8c4a"/>
<stop offset="0.66" stop-color="#fc9943"/>
<stop offset="0.67" stop-color="#fda53e"/>
<stop offset="0.69" stop-color="#fdae3b"/>
<stop offset="0.7" stop-color="#fcb538"/>
<stop offset="0.71" stop-color="#fbbf37"/>
<stop offset="0.73" stop-color="#f8cb37"/>
<stop offset="0.74" stop-color="#f5d637"/>
<stop offset="0.76" stop-color="#f3db37"/>
<stop offset="0.77" stop-color="#f2de37"/>
<stop offset="0.79" stop-color="#f1e037"/>
<stop offset="0.8" stop-color="#f0e237"/>
<stop offset="0.81" stop-color="#f0e337"/>
<stop offset="0.83" stop-color="#efe437"/>
<stop offset="0.84" stop-color="#efe537"/>
<stop offset="0.86" stop-color="#efe637"/>
<stop offset="0.87" stop-color="#efe737"/>
<stop offset="0.89" stop-color="#eee737"/>
<stop offset="0.9" stop-color="#eee737"/>
<stop offset="0.91" stop-color="#eee837"/>
<stop offset="0.93" stop-color="#eee837"/>
<stop offset="0.94" stop-color="#eee837"/>
<stop offset="0.96" stop-color="#eee837"/>
<stop offset="0.97" stop-color="#eee837"/>
<stop offset="0.99" stop-color="#eee837"/>
<stop offset="1" stop-color="#eee837"/>
</linearGradient>
<path d="M1460,263C1463.33,262.88 1472.5,262.8 1480,262.3C1487.5,261.8 1497.5,261.3 1505,260C1512.5,258.7 1518.75,256.58 1525,254.5C1531.25,252.42 1536.67,250 1542.5,247.5C1548.33,245 1554.42,242.33 1560,239.5C1565.58,236.67 1571,233.67 1576,230.5C1581,227.33 1585.17,224.33 1590,220.5C1594.83,216.67 1600.33,212.25 1605,207.5C1609.67,202.75 1613.83,197.42 1618,192C1622.17,186.58 1625.08,183.25 1630,175C1634.92,166.75 1642.08,152.92 1647.5,142.5C1652.92,132.08 1657.08,122.08 1662.5,112.5C1667.92,102.92 1674.17,92.71 1680,85C1685.83,77.29 1692.5,70.62 1697.5,66.25C1702.5,61.88 1706.46,60.29 1710,58.75C1713.54,57.21 1715.42,57 1718.75,57C1722.08,57 1726.12,57.67 1730,58.75C1733.88,59.83 1737.83,61.62 1742,63.5C1746.17,65.38 1750.33,67.04 1755,70C1759.67,72.96 1764.58,75.42 1770,81.25C1775.42,87.08 1781.67,96.04 1787.5,105C1793.33,113.96 1799.17,125.83 1805,135C1810.83,144.17 1816.92,152.5 1822.5,160C1828.08,167.5 1832.92,173.33 1838.5,180C1844.08,186.67 1849.96,193.33 1856,200C1862.04,206.67 1868.92,213.96 1874.75,220C1880.58,226.04 1885.38,231.67 1891,236.25C1896.62,240.83 1901.83,244.38 1908.5,247.5C1915.17,250.62 1923.08,252.92 1931,255C1938.92,257.08 1947.67,258.79 1956,260C1964.33,261.21 1972.67,261.75 1981,262.25C1989.33,262.75 2001.83,262.88 2006,263L2006,263.8L1460,263.8Z" fill="url(#rg0)"/>
<path d="M1460,263C1463.33,262.88 1472.5,262.8 1480,262.3C1487.5,261.8 1497.5,261.3 1505,260C1512.5,258.7 1518.75,256.58 1525,254.5C1531.25,252.42 1536.67,250 1542.5,247.5C1548.33,245 1554.42,242.33 1560,239.5C1565.58,236.67 1571,233.67 1576,230.5C1581,227.33 1585.17,224.33 1590,220.5C1594.83,216.67 1600.33,212.25 1605,207.5C1609.67,202.75 1613.83,197.42 1618,192C1622.17,186.58 1625.08,183.25 1630,175C1634.92,166.75 1642.08,152.92 1647.5,142.5C1652.92,132.08 1657.08,122.08 1662.5,112.5C1667.92,102.92 1674.17,92.71 1680,85C1685.83,77.29 1692.5,70.62 1697.5,66.25C1702.5,61.88 1706.46,60.29 1710,58.75C1713.54,57.21 1715.42,57 1718.75,57C1722.08,57 1726.12,57.67 1730,58.75C1733.88,59.83 1737.83,61.62 1742,63.5C1746.17,65.38 1750.33,67.04 1755,70C1759.67,72.96 1764.58,75.42 1770,81.25C1775.42,87.08 1781.67,96.04 1787.5,105C1793.33,113.96 1799.17,125.83 1805,135C1810.83,144.17 1816.92,152.5 1822.5,160C1828.08,167.5 1832.92,173.33 1838.5,180C1844.08,186.67 1849.96,193.33 1856,200C1862.04,206.67 1868.92,213.96 1874.75,220C1880.58,226.04 1885.38,231.67 1891,236.25C1896.62,240.83 1901.83,244.38 1908.5,247.5C1915.17,250.62 1923.08,252.92 1931,255C1938.92,257.08 1947.67,258.79 1956,260C1964.33,261.21 1972.67,261.75 1981,262.25C1989.33,262.75 2001.83,262.88 2006,263" fill="none" stroke="#262626" stroke-width="1.05"/>
<path d="M1576.5,263V231.14M1874.9,263V221.15" stroke="#444" stroke-width="1.25" stroke-dasharray="4.2,3.2" fill="none"/>
<path d="M1728.5,263V59.52" stroke="#93939c" stroke-width="1.05" stroke-dasharray="4.4,3.3" fill="none"/>
<text x="1729.5" y="186.25" font-size="21" textLength="102.25" lengthAdjust="spacingAndGlyphs" style="fill:#fff"><tspan font-style="italic">t</tspan><tspan font-size="14.5" dy="4.5">med</tspan><tspan dy="-4.5"> = 0.43</tspan></text>
<linearGradient id="rg1" gradientUnits="userSpaceOnUse" x1="1370" y1="0" x2="2054.75" y2="0">
<stop offset="0" stop-color="#eee837"/>
<stop offset="0.01" stop-color="#eee837"/>
<stop offset="0.03" stop-color="#eee837"/>
<stop offset="0.04" stop-color="#eee837"/>
<stop offset="0.06" stop-color="#eee837"/>
<stop offset="0.07" stop-color="#eee837"/>
<stop offset="0.09" stop-color="#eee737"/>
<stop offset="0.1" stop-color="#eee737"/>
<stop offset="0.11" stop-color="#eee737"/>
<stop offset="0.13" stop-color="#efe637"/>
<stop offset="0.14" stop-color="#efe637"/>
<stop offset="0.16" stop-color="#efe537"/>
<stop offset="0.17" stop-color="#f0e437"/>
<stop offset="0.19" stop-color="#f0e337"/>
<stop offset="0.2" stop-color="#f1e237"/>
<stop offset="0.21" stop-color="#f1e037"/>
<stop offset="0.23" stop-color="#f2de37"/>
<stop offset="0.24" stop-color="#f3dc37"/>
<stop offset="0.26" stop-color="#f4d937"/>
<stop offset="0.27" stop-color="#f6d137"/>
<stop offset="0.29" stop-color="#f9c537"/>
<stop offset="0.3" stop-color="#fcb837"/>
<stop offset="0.31" stop-color="#fdb03a"/>
<stop offset="0.33" stop-color="#fda63d"/>
<stop offset="0.34" stop-color="#fc9943"/>
<stop offset="0.36" stop-color="#fa8b4a"/>
<stop offset="0.37" stop-color="#f57d55"/>
<stop offset="0.39" stop-color="#ea6f63"/>
<stop offset="0.4" stop-color="#da5d6f"/>
<stop offset="0.41" stop-color="#c5487a"/>
<stop offset="0.43" stop-color="#ba31a2"/>
<stop offset="0.44" stop-color="#9d2dae"/>
<stop offset="0.46" stop-color="#8020ab"/>
<stop offset="0.47" stop-color="#6c20a4"/>
<stop offset="0.49" stop-color="#4f289a"/>
<stop offset="0.5" stop-color="#3c2891"/>
<stop offset="0.51" stop-color="#392b8a"/>
<stop offset="0.53" stop-color="#4a2898"/>
<stop offset="0.54" stop-color="#6623a2"/>
<stop offset="0.56" stop-color="#7c1eaa"/>
<stop offset="0.57" stop-color="#9b2daf"/>
<stop offset="0.59" stop-color="#b831a3"/>
<stop offset="0.6" stop-color="#c54879"/>
<stop offset="0.61" stop-color="#dc5f6e"/>
<stop offset="0.63" stop-color="#ec7161"/>
<stop offset="0.64" stop-color="#f68053"/>
<stop offset="0.66" stop-color="#fb8e48"/>
<stop offset="0.67" stop-color="#fc9b42"/>
<stop offset="0.69" stop-color="#fda83d"/>
<stop offset="0.7" stop-color="#fdb03a"/>
<stop offset="0.71" stop-color="#fcb638"/>
<stop offset="0.73" stop-color="#fac137"/>
<stop offset="0.74" stop-color="#f8cc37"/>
<stop offset="0.76" stop-color="#f5d637"/>
<stop offset="0.77" stop-color="#f3db37"/>
<stop offset="0.79" stop-color="#f2de37"/>
<stop offset="0.8" stop-color="#f1e037"/>
<stop offset="0.81" stop-color="#f0e237"/>
<stop offset="0.83" stop-color="#f0e437"/>
<stop offset="0.84" stop-color="#efe537"/>
<stop offset="0.86" stop-color="#efe537"/>
<stop offset="0.87" stop-color="#efe637"/>
<stop offset="0.89" stop-color="#efe637"/>
<stop offset="0.9" stop-color="#eee737"/>
<stop offset="0.91" stop-color="#eee737"/>
<stop offset="0.93" stop-color="#eee837"/>
<stop offset="0.94" stop-color="#eee837"/>
<stop offset="0.96" stop-color="#eee837"/>
<stop offset="0.97" stop-color="#eee837"/>
<stop offset="0.99" stop-color="#eee837"/>
<stop offset="1" stop-color="#eee837"/>
</linearGradient>
<path d="M1370,377.25C1375.83,377.08 1392.92,376.83 1405,376.25C1417.08,375.67 1430,375.42 1442.5,373.75C1455,372.08 1470.42,368.21 1480,366.25C1489.58,364.29 1493.75,363.38 1500,362C1506.25,360.62 1512.5,359.5 1517.5,358C1522.5,356.5 1526.46,354.75 1530,353C1533.54,351.25 1534.58,350.92 1538.75,347.5C1542.92,344.08 1550.29,337.25 1555,332.5C1559.71,327.75 1562.83,323.58 1567,319C1571.17,314.42 1576.17,308.92 1580,305C1583.83,301.08 1586.67,298.42 1590,295.5C1593.33,292.58 1595.42,290.5 1600,287.5C1604.58,284.5 1610.83,281.45 1617.5,277.5C1624.17,273.55 1633.17,268.53 1640,263.8C1646.83,259.07 1652.33,254.52 1658.5,249.1C1664.67,243.68 1671.43,236.62 1677,231.3C1682.57,225.98 1687.57,220.9 1691.9,217.2C1696.23,213.5 1699.3,211.32 1703,209.1C1706.7,206.88 1711.02,204.95 1714.1,203.9C1717.18,202.85 1719.02,202.8 1721.5,202.8C1723.98,202.8 1725.28,202.73 1729,203.9C1732.72,205.07 1738.87,207.08 1743.8,209.8C1748.73,212.52 1753.67,216.25 1758.6,220.2C1763.53,224.15 1768.45,228.55 1773.4,233.5C1778.35,238.45 1783.7,245 1788.3,249.9C1792.9,254.8 1794.72,257.05 1801,262.9C1807.28,268.75 1817.67,277.15 1826,285C1834.33,292.85 1842.67,302.5 1851,310C1859.33,317.5 1867.67,324.17 1876,330C1884.33,335.83 1892.67,340 1901,345C1909.33,350 1917.67,355.83 1926,360C1934.33,364.17 1942.67,367.92 1951,370C1959.33,372.08 1968.5,371.96 1976,372.5C1983.5,373.04 1989.33,372.75 1996,373.25C2002.67,373.75 2009.33,374.88 2016,375.5C2022.67,376.12 2029.54,376.71 2036,377C2042.46,377.29 2051.62,377.21 2054.75,377.25L2054.75,378.05L1370,378.05Z" fill="url(#rg1)"/>
<path d="M1370,377.25C1375.83,377.08 1392.92,376.83 1405,376.25C1417.08,375.67 1430,375.42 1442.5,373.75C1455,372.08 1470.42,368.21 1480,366.25C1489.58,364.29 1493.75,363.38 1500,362C1506.25,360.62 1512.5,359.5 1517.5,358C1522.5,356.5 1526.46,354.75 1530,353C1533.54,351.25 1534.58,350.92 1538.75,347.5C1542.92,344.08 1550.29,337.25 1555,332.5C1559.71,327.75 1562.83,323.58 1567,319C1571.17,314.42 1576.17,308.92 1580,305C1583.83,301.08 1586.67,298.42 1590,295.5C1593.33,292.58 1595.42,290.5 1600,287.5C1604.58,284.5 1610.83,281.45 1617.5,277.5C1624.17,273.55 1633.17,268.53 1640,263.8C1646.83,259.07 1652.33,254.52 1658.5,249.1C1664.67,243.68 1671.43,236.62 1677,231.3C1682.57,225.98 1687.57,220.9 1691.9,217.2C1696.23,213.5 1699.3,211.32 1703,209.1C1706.7,206.88 1711.02,204.95 1714.1,203.9C1717.18,202.85 1719.02,202.8 1721.5,202.8C1723.98,202.8 1725.28,202.73 1729,203.9C1732.72,205.07 1738.87,207.08 1743.8,209.8C1748.73,212.52 1753.67,216.25 1758.6,220.2C1763.53,224.15 1768.45,228.55 1773.4,233.5C1778.35,238.45 1783.7,245 1788.3,249.9C1792.9,254.8 1794.72,257.05 1801,262.9C1807.28,268.75 1817.67,277.15 1826,285C1834.33,292.85 1842.67,302.5 1851,310C1859.33,317.5 1867.67,324.17 1876,330C1884.33,335.83 1892.67,340 1901,345C1909.33,350 1917.67,355.83 1926,360C1934.33,364.17 1942.67,367.92 1951,370C1959.33,372.08 1968.5,371.96 1976,372.5C1983.5,373.04 1989.33,372.75 1996,373.25C2002.67,373.75 2009.33,374.88 2016,375.5C2022.67,376.12 2029.54,376.71 2036,377C2042.46,377.29 2051.62,377.21 2054.75,377.25" fill="none" stroke="#262626" stroke-width="1.05"/>
<path d="M1538.5,377.25V348.66M1900.5,377.25V345.7" stroke="#444" stroke-width="1.25" stroke-dasharray="4.2,3.2" fill="none"/>
<path d="M1718.25,377.25V204.28" stroke="#93939c" stroke-width="1.05" stroke-dasharray="4.4,3.3" fill="none"/>
<text x="1722.5" y="322" font-size="21" textLength="107.25" lengthAdjust="spacingAndGlyphs" style="fill:#fff"><tspan font-style="italic">q</tspan><tspan font-size="14.5" dy="4.5">med</tspan><tspan dy="-4.5"> = 0.42</tspan></text>
<rect x="1370.5" y="28.3" width="685.1" height="436.7" fill="none" stroke="#3d3d3d" stroke-width="1"/>
<path d="M1499.5,465V472.8M1698.5,465V472.8M1896.8,465V472.8" stroke="#333" stroke-width="1" fill="none"/>
<text font-size="23.6" textLength="34.04" lengthAdjust="spacingAndGlyphs" x="1481.59" y="504.7">0.2</text>
<text font-size="23.6" textLength="33.5" lengthAdjust="spacingAndGlyphs" x="1680.61" y="504.7">0.4</text>
<text font-size="23.6" textLength="33.9" lengthAdjust="spacingAndGlyphs" x="1878.9" y="504.7">0.6</text>
<text font-size="23.6" textLength="45.09" lengthAdjust="spacingAndGlyphs" x="1387.13" y="64.6">GDs</text>
<text font-size="23.6" textLength="79.69" lengthAdjust="spacingAndGlyphs" x="1387.8" y="91.9"><tspan font-style="italic">n</tspan> = 408</text>
<text font-size="23.6" textLength="55.31" lengthAdjust="spacingAndGlyphs" x="1506.82" y="405.2">2.5th</text>
<text font-size="23.6" textLength="51.85" lengthAdjust="spacingAndGlyphs" x="1704.07" y="405.2">50th</text>
<text font-size="23.6" textLength="65.68" lengthAdjust="spacingAndGlyphs" x="1901.88" y="405.2">97.5th</text>
<text font-size="23.6" textLength="104.98" lengthAdjust="spacingAndGlyphs" x="2063.71" y="267.5">Theil–Sen</text>
<text font-size="23.6" textLength="92.01" lengthAdjust="spacingAndGlyphs" x="2063.02" y="382.45">Quantile</text>
<text font-size="23.4" textLength="159.36" lengthAdjust="spacingAndGlyphs" x="1881.46" y="53.5">Tail probability</text>
<linearGradient id="cbB" x1="0" y1="0" x2="0" y2="1">
<stop offset="0" stop-color="#32307d"/>
<stop offset="0.05" stop-color="#3c2891"/>
<stop offset="0.1" stop-color="#462896"/>
<stop offset="0.17" stop-color="#5a289e"/>
<stop offset="0.22" stop-color="#701ea5"/>
<stop offset="0.28" stop-color="#7d1eaa"/>
<stop offset="0.35" stop-color="#9b2daf"/>
<stop offset="0.4" stop-color="#aa2daa"/>
<stop offset="0.43" stop-color="#be32a0"/>
<stop offset="0.47" stop-color="#be417d"/>
<stop offset="0.52" stop-color="#d25573"/>
<stop offset="0.58" stop-color="#e66969"/>
<stop offset="0.65" stop-color="#f57d55"/>
<stop offset="0.72" stop-color="#fc9146"/>
<stop offset="0.8" stop-color="#fdaa3c"/>
<stop offset="0.87" stop-color="#fcb937"/>
<stop offset="0.93" stop-color="#f5d737"/>
<stop offset="1" stop-color="#eee837"/>
</linearGradient>
<rect x="1885.6" y="61.8" width="28.6" height="141.8" fill="url(#cbB)"/>
<path d="M1908.3,203.1H1914.2M1908.3,174.8H1914.2M1908.3,146.5H1914.2M1908.3,118.2H1914.2M1908.3,89.9H1914.2" stroke="#fff" stroke-width="1" fill="none"/>
<text font-size="19.3" textLength="12.73" lengthAdjust="spacingAndGlyphs" x="1920.41" y="208.1">0</text>
<text font-size="19.3" textLength="28.36" lengthAdjust="spacingAndGlyphs" x="1920.5" y="152.2">0.2</text>
<text font-size="19.3" textLength="29" lengthAdjust="spacingAndGlyphs" x="1920.49" y="95.6">0.4</text>
<text font-size="27.6" textLength="203.56" lengthAdjust="spacingAndGlyphs" transform="translate(1353.8,348.54) rotate(-90)">Regression type</text>
</g>
<text font-size="39" textLength="27.74" lengthAdjust="spacingAndGlyphs" x="1332.09" y="30" font-weight="bold" style="fill:#000">b</text>
<g id="panelC">
<path d="M1370.6,778.8H2056.3" stroke="#8a8a8a" stroke-width="0.9" fill="none"/>
<path d="M1370.6,905.55H2056.3" stroke="#8a8a8a" stroke-width="0.9" fill="none"/>
<linearGradient id="rg2" gradientUnits="userSpaceOnUse" x1="1406.25" y1="0" x2="1991" y2="0">
<stop offset="0" stop-color="#eee837"/>
<stop offset="0.01" stop-color="#eee837"/>
<stop offset="0.03" stop-color="#eee837"/>
<stop offset="0.04" stop-color="#eee837"/>
<stop offset="0.06" stop-color="#eee837"/>
<stop offset="0.07" stop-color="#eee837"/>
<stop offset="0.09" stop-color="#eee837"/>
<stop offset="0.1" stop-color="#eee837"/>
<stop offset="0.11" stop-color="#eee737"/>
<stop offset="0.13" stop-color="#eee737"/>
<stop offset="0.14" stop-color="#efe637"/>
<stop offset="0.16" stop-color="#efe637"/>
<stop offset="0.17" stop-color="#efe537"/>
<stop offset="0.19" stop-color="#f0e437"/>
<stop offset="0.2" stop-color="#f0e337"/>
<stop offset="0.21" stop-color="#f1e137"/>
<stop offset="0.23" stop-color="#f2df37"/>
<stop offset="0.24" stop-color="#f3dc37"/>
<stop offset="0.26" stop-color="#f5d837"/>
<stop offset="0.27" stop-color="#f7cd37"/>
<stop offset="0.29" stop-color="#fac137"/>
<stop offset="0.3" stop-color="#fcb638"/>
<stop offset="0.31" stop-color="#fdae3b"/>
<stop offset="0.33" stop-color="#fda43e"/>
<stop offset="0.34" stop-color="#fc9744"/>
<stop offset="0.36" stop-color="#f9884d"/>
<stop offset="0.37" stop-color="#f1785a"/>
<stop offset="0.39" stop-color="#e2656b"/>
<stop offset="0.4" stop-color="#c94c77"/>
<stop offset="0.41" stop-color="#b730a3"/>
<stop offset="0.43" stop-color="#942aae"/>
<stop offset="0.44" stop-color="#751ea7"/>
<stop offset="0.46" stop-color="#54289c"/>
<stop offset="0.47" stop-color="#3d2892"/>
<stop offset="0.49" stop-color="#3a2a8d"/>
<stop offset="0.5" stop-color="#4f289a"/>
<stop offset="0.51" stop-color="#701ea5"/>
<stop offset="0.53" stop-color="#8924ac"/>
<stop offset="0.54" stop-color="#a72dab"/>
<stop offset="0.56" stop-color="#bf427d"/>
<stop offset="0.57" stop-color="#dc5f6e"/>
<stop offset="0.59" stop-color="#ef755d"/>
<stop offset="0.6" stop-color="#f9884d"/>
<stop offset="0.61" stop-color="#fc9943"/>
<stop offset="0.63" stop-color="#fda93c"/>
<stop offset="0.64" stop-color="#fcb339"/>
<stop offset="0.66" stop-color="#fbbc37"/>
<stop offset="0.67" stop-color="#f8cb37"/>
<stop offset="0.69" stop-color="#f5d737"/>
<stop offset="0.7" stop-color="#f3dc37"/>
<stop offset="0.71" stop-color="#f2df37"/>
<stop offset="0.73" stop-color="#f1e137"/>
<stop offset="0.74" stop-color="#f0e337"/>
<stop offset="0.76" stop-color="#efe437"/>
<stop offset="0.77" stop-color="#efe537"/>
<stop offset="0.79" stop-color="#efe637"/>
<stop offset="0.8" stop-color="#efe737"/>
<stop offset="0.81" stop-color="#eee737"/>
<stop offset="0.83" stop-color="#eee737"/>
<stop offset="0.84" stop-color="#eee737"/>
<stop offset="0.86" stop-color="#eee837"/>
<stop offset="0.87" stop-color="#eee837"/>
<stop offset="0.89" stop-color="#eee837"/>
<stop offset="0.9" stop-color="#eee837"/>
<stop offset="0.91" stop-color="#eee837"/>
<stop offset="0.93" stop-color="#eee837"/>
<stop offset="0.94" stop-color="#eee837"/>
<stop offset="0.96" stop-color="#eee837"/>
<stop offset="0.97" stop-color="#eee837"/>
<stop offset="0.99" stop-color="#eee837"/>
<stop offset="1" stop-color="#eee837"/>
</linearGradient>
<path d="M1406.25,778.5C1411.46,778.43 1428.12,778.48 1437.5,778.1C1446.88,777.73 1454.17,777.08 1462.5,776.25C1470.83,775.42 1480.21,774.35 1487.5,773.1C1494.79,771.85 1500,770.93 1506.25,768.75C1512.5,766.57 1519.79,762.92 1525,760C1530.21,757.08 1533.65,754.27 1537.5,751.25C1541.35,748.23 1543.93,746.27 1548.1,741.9C1552.27,737.52 1558.02,730.32 1562.5,725C1566.98,719.68 1570.83,715 1575,710C1579.17,705 1583.33,700.42 1587.5,695C1591.67,689.58 1595.83,683.96 1600,677.5C1604.17,671.04 1608.75,662.71 1612.5,656.25C1616.25,649.79 1618.75,645.83 1622.5,638.75C1626.25,631.67 1631.25,621.88 1635,613.75C1638.75,605.62 1642.08,596.46 1645,590C1647.92,583.54 1650,579.38 1652.5,575C1655,570.62 1657.5,566.98 1660,563.75C1662.5,560.52 1665,557.64 1667.5,555.6C1670,553.56 1672.71,552.33 1675,551.5C1677.29,550.67 1679.17,550.53 1681.25,550.6C1683.33,550.67 1685.21,551.07 1687.5,551.9C1689.79,552.73 1692.08,553.62 1695,555.6C1697.92,557.58 1701.67,560.83 1705,563.75C1708.33,566.67 1711.67,570.08 1715,573.1C1718.33,576.12 1721.67,578.98 1725,581.9C1728.33,584.82 1732.08,587.58 1735,590.6C1737.92,593.62 1740,596.35 1742.5,600C1745,603.65 1747.5,607.92 1750,612.5C1752.5,617.08 1755,622.08 1757.5,627.5C1760,632.92 1762.5,639.17 1765,645C1767.5,650.83 1770.1,657 1772.5,662.5C1774.9,668 1776.28,671.75 1779.4,678C1782.53,684.25 1787.19,693.21 1791.25,700C1795.31,706.79 1799.79,712.71 1803.75,718.75C1807.71,724.79 1810.46,730.42 1815,736.25C1819.54,742.08 1825,748.96 1831,753.75C1837,758.54 1844.33,761.88 1851,765C1857.67,768.12 1864.33,770.62 1871,772.5C1877.67,774.38 1881.83,775.38 1891,776.25C1900.17,777.12 1909.33,777.38 1926,777.75C1942.67,778.12 1980.17,778.38 1991,778.5L1991,779.3L1406.25,779.3Z" fill="url(#rg2)"/>
<path d="M1406.25,778.5C1411.46,778.43 1428.12,778.48 1437.5,778.1C1446.88,777.73 1454.17,777.08 1462.5,776.25C1470.83,775.42 1480.21,774.35 1487.5,773.1C1494.79,771.85 1500,770.93 1506.25,768.75C1512.5,766.57 1519.79,762.92 1525,760C1530.21,757.08 1533.65,754.27 1537.5,751.25C1541.35,748.23 1543.93,746.27 1548.1,741.9C1552.27,737.52 1558.02,730.32 1562.5,725C1566.98,719.68 1570.83,715 1575,710C1579.17,705 1583.33,700.42 1587.5,695C1591.67,689.58 1595.83,683.96 1600,677.5C1604.17,671.04 1608.75,662.71 1612.5,656.25C1616.25,649.79 1618.75,645.83 1622.5,638.75C1626.25,631.67 1631.25,621.88 1635,613.75C1638.75,605.62 1642.08,596.46 1645,590C1647.92,583.54 1650,579.38 1652.5,575C1655,570.62 1657.5,566.98 1660,563.75C1662.5,560.52 1665,557.64 1667.5,555.6C1670,553.56 1672.71,552.33 1675,551.5C1677.29,550.67 1679.17,550.53 1681.25,550.6C1683.33,550.67 1685.21,551.07 1687.5,551.9C1689.79,552.73 1692.08,553.62 1695,555.6C1697.92,557.58 1701.67,560.83 1705,563.75C1708.33,566.67 1711.67,570.08 1715,573.1C1718.33,576.12 1721.67,578.98 1725,581.9C1728.33,584.82 1732.08,587.58 1735,590.6C1737.92,593.62 1740,596.35 1742.5,600C1745,603.65 1747.5,607.92 1750,612.5C1752.5,617.08 1755,622.08 1757.5,627.5C1760,632.92 1762.5,639.17 1765,645C1767.5,650.83 1770.1,657 1772.5,662.5C1774.9,668 1776.28,671.75 1779.4,678C1782.53,684.25 1787.19,693.21 1791.25,700C1795.31,706.79 1799.79,712.71 1803.75,718.75C1807.71,724.79 1810.46,730.42 1815,736.25C1819.54,742.08 1825,748.96 1831,753.75C1837,758.54 1844.33,761.88 1851,765C1857.67,768.12 1864.33,770.62 1871,772.5C1877.67,774.38 1881.83,775.38 1891,776.25C1900.17,777.12 1909.33,777.38 1926,777.75C1942.67,778.12 1980.17,778.38 1991,778.5" fill="none" stroke="#262626" stroke-width="1.05"/>
<path d="M1548.25,778.5V742.72M1814.9,778.5V737.09" stroke="#444" stroke-width="1.25" stroke-dasharray="4.2,3.2" fill="none"/>
<path d="M1686.75,778.5V552.74" stroke="#93939c" stroke-width="1.05" stroke-dasharray="4.4,3.3" fill="none"/>
<text x="1686.5" y="679.25" font-size="21" textLength="90.75" lengthAdjust="spacingAndGlyphs" style="fill:#fff"><tspan font-style="italic">t</tspan><tspan font-size="14.5" dy="4.5">med</tspan><tspan dy="-4.5"> = 0.63</tspan></text>
<linearGradient id="rg3" gradientUnits="userSpaceOnUse" x1="1406.25" y1="0" x2="1991" y2="0">
<stop offset="0" stop-color="#eee837"/>
<stop offset="0.01" stop-color="#eee837"/>
<stop offset="0.03" stop-color="#eee837"/>
<stop offset="0.04" stop-color="#eee837"/>
<stop offset="0.06" stop-color="#eee837"/>
<stop offset="0.07" stop-color="#eee837"/>
<stop offset="0.09" stop-color="#eee837"/>
<stop offset="0.1" stop-color="#eee737"/>
<stop offset="0.11" stop-color="#eee737"/>
<stop offset="0.13" stop-color="#eee737"/>
<stop offset="0.14" stop-color="#efe737"/>
<stop offset="0.16" stop-color="#efe637"/>
<stop offset="0.17" stop-color="#efe537"/>
<stop offset="0.19" stop-color="#f0e437"/>
<stop offset="0.2" stop-color="#f0e337"/>
<stop offset="0.21" stop-color="#f1e137"/>
<stop offset="0.23" stop-color="#f2df37"/>
<stop offset="0.24" stop-color="#f3dc37"/>
<stop offset="0.26" stop-color="#f5d737"/>
<stop offset="0.27" stop-color="#f8cc37"/>
<stop offset="0.29" stop-color="#fbbd37"/>
<stop offset="0.3" stop-color="#fcb339"/>
<stop offset="0.31" stop-color="#fdab3c"/>
<stop offset="0.33" stop-color="#fc9d41"/>
<stop offset="0.34" stop-color="#fb8e48"/>
<stop offset="0.36" stop-color="#f67f53"/>
<stop offset="0.37" stop-color="#ea6f63"/>
<stop offset="0.39" stop-color="#d85b70"/>
<stop offset="0.4" stop-color="#bf427c"/>
<stop offset="0.41" stop-color="#af2ea8"/>
<stop offset="0.43" stop-color="#962bae"/>
<stop offset="0.44" stop-color="#7a1ea9"/>
<stop offset="0.46" stop-color="#6523a2"/>
<stop offset="0.47" stop-color="#4c2898"/>
<stop offset="0.49" stop-color="#3a298d"/>
<stop offset="0.5" stop-color="#3a2a8d"/>
<stop offset="0.51" stop-color="#4c2898"/>
<stop offset="0.53" stop-color="#6722a2"/>
<stop offset="0.54" stop-color="#7c1eaa"/>
<stop offset="0.56" stop-color="#9b2daf"/>
<stop offset="0.57" stop-color="#b730a3"/>
<stop offset="0.59" stop-color="#c4477a"/>
<stop offset="0.6" stop-color="#dc5f6e"/>
<stop offset="0.61" stop-color="#ec7161"/>
<stop offset="0.63" stop-color="#f68053"/>
<stop offset="0.64" stop-color="#fb8f48"/>
<stop offset="0.66" stop-color="#fc9d41"/>
<stop offset="0.67" stop-color="#fdaa3c"/>
<stop offset="0.69" stop-color="#fcb239"/>
<stop offset="0.7" stop-color="#fcb937"/>
<stop offset="0.71" stop-color="#f9c637"/>
<stop offset="0.73" stop-color="#f6d137"/>
<stop offset="0.74" stop-color="#f4d837"/>
<stop offset="0.76" stop-color="#f3dc37"/>
<stop offset="0.77" stop-color="#f2de37"/>
<stop offset="0.79" stop-color="#f1e037"/>
<stop offset="0.8" stop-color="#f1e137"/>
<stop offset="0.81" stop-color="#f0e237"/>
<stop offset="0.83" stop-color="#f0e337"/>
<stop offset="0.84" stop-color="#f0e437"/>
<stop offset="0.86" stop-color="#efe537"/>
<stop offset="0.87" stop-color="#efe637"/>
<stop offset="0.89" stop-color="#efe637"/>
<stop offset="0.9" stop-color="#efe737"/>
<stop offset="0.91" stop-color="#eee737"/>
<stop offset="0.93" stop-color="#eee737"/>
<stop offset="0.94" stop-color="#eee837"/>
<stop offset="0.96" stop-color="#eee837"/>
<stop offset="0.97" stop-color="#eee837"/>
<stop offset="0.99" stop-color="#eee837"/>
<stop offset="1" stop-color="#eee837"/>
</linearGradient>
<path d="M1406.25,905.25C1412.29,905.08 1430.21,904.92 1442.5,904.25C1454.79,903.58 1469.58,903 1480,901.25C1490.42,899.5 1496.67,897.08 1505,893.75C1513.33,890.42 1522.71,886.04 1530,881.25C1537.29,876.46 1542.5,872.21 1548.75,865C1555,857.79 1561.46,846.75 1567.5,838C1573.54,829.25 1578.96,820.83 1585,812.5C1591.04,804.17 1597.5,795.92 1603.75,788C1610,780.08 1617.29,770.75 1622.5,765C1627.71,759.25 1630.83,756.75 1635,753.5C1639.17,750.25 1643.33,747.85 1647.5,745.5C1651.67,743.15 1655.83,741.77 1660,739.4C1664.17,737.02 1668.33,734.48 1672.5,731.25C1676.67,728.02 1681.25,723.12 1685,720C1688.75,716.88 1691.88,714.12 1695,712.5C1698.12,710.88 1700.83,710.25 1703.75,710.25C1706.67,710.25 1709.38,710.67 1712.5,712.5C1715.62,714.33 1718.75,717.5 1722.5,721.25C1726.25,725 1730.83,730.62 1735,735C1739.17,739.38 1743.33,742.92 1747.5,747.5C1751.67,752.08 1755.83,757.5 1760,762.5C1764.17,767.5 1768.33,772.5 1772.5,777.5C1776.67,782.5 1780.83,787.5 1785,792.5C1789.17,797.5 1793.33,802.08 1797.5,807.5C1801.67,812.92 1806.46,819.92 1810,825C1813.54,830.08 1816.08,834.03 1818.75,838C1821.42,841.97 1822.71,844.33 1826,848.8C1829.29,853.27 1834.62,860.13 1838.5,864.8C1842.38,869.47 1844.67,873.02 1849.25,876.8C1853.83,880.58 1859.46,884.55 1866,887.5C1872.54,890.45 1881.83,892.83 1888.5,894.5C1895.17,896.17 1899.75,896.79 1906,897.5C1912.25,898.21 1919.33,898.12 1926,898.75C1932.67,899.38 1939.33,900.33 1946,901.25C1952.67,902.17 1958.5,903.58 1966,904.25C1973.5,904.92 1986.83,905.08 1991,905.25L1991,906.05L1406.25,906.05Z" fill="url(#rg3)"/>
<path d="M1406.25,905.25C1412.29,905.08 1430.21,904.92 1442.5,904.25C1454.79,903.58 1469.58,903 1480,901.25C1490.42,899.5 1496.67,897.08 1505,893.75C1513.33,890.42 1522.71,886.04 1530,881.25C1537.29,876.46 1542.5,872.21 1548.75,865C1555,857.79 1561.46,846.75 1567.5,838C1573.54,829.25 1578.96,820.83 1585,812.5C1591.04,804.17 1597.5,795.92 1603.75,788C1610,780.08 1617.29,770.75 1622.5,765C1627.71,759.25 1630.83,756.75 1635,753.5C1639.17,750.25 1643.33,747.85 1647.5,745.5C1651.67,743.15 1655.83,741.77 1660,739.4C1664.17,737.02 1668.33,734.48 1672.5,731.25C1676.67,728.02 1681.25,723.12 1685,720C1688.75,716.88 1691.88,714.12 1695,712.5C1698.12,710.88 1700.83,710.25 1703.75,710.25C1706.67,710.25 1709.38,710.67 1712.5,712.5C1715.62,714.33 1718.75,717.5 1722.5,721.25C1726.25,725 1730.83,730.62 1735,735C1739.17,739.38 1743.33,742.92 1747.5,747.5C1751.67,752.08 1755.83,757.5 1760,762.5C1764.17,767.5 1768.33,772.5 1772.5,777.5C1776.67,782.5 1780.83,787.5 1785,792.5C1789.17,797.5 1793.33,802.08 1797.5,807.5C1801.67,812.92 1806.46,819.92 1810,825C1813.54,830.08 1816.08,834.03 1818.75,838C1821.42,841.97 1822.71,844.33 1826,848.8C1829.29,853.27 1834.62,860.13 1838.5,864.8C1842.38,869.47 1844.67,873.02 1849.25,876.8C1853.83,880.58 1859.46,884.55 1866,887.5C1872.54,890.45 1881.83,892.83 1888.5,894.5C1895.17,896.17 1899.75,896.79 1906,897.5C1912.25,898.21 1919.33,898.12 1926,898.75C1932.67,899.38 1939.33,900.33 1946,901.25C1952.67,902.17 1958.5,903.58 1966,904.25C1973.5,904.92 1986.83,905.08 1991,905.25" fill="none" stroke="#262626" stroke-width="1.05"/>
<path d="M1548.75,905.25V866M1849.4,905.25V877.9" stroke="#444" stroke-width="1.25" stroke-dasharray="4.2,3.2" fill="none"/>
<path d="M1694.5,905.25V713.88" stroke="#93939c" stroke-width="1.05" stroke-dasharray="4.4,3.3" fill="none"/>
<text x="1695" y="835" font-size="21" textLength="95.25" lengthAdjust="spacingAndGlyphs" style="fill:#fff"><tspan font-style="italic">q</tspan><tspan font-size="14.5" dy="4.5">med</tspan><tspan dy="-4.5"> = 0.67</tspan></text>
<rect x="1372.6" y="545.6" width="683.7" height="436.8" fill="none" stroke="#3d3d3d" stroke-width="1"/>
<path d="M1505.5,982.4V990.2M1648.5,982.4V990.2M1791.5,982.4V990.2M1934.5,982.4V990.2" stroke="#333" stroke-width="1" fill="none"/>
<text font-size="23.6" textLength="15.02" lengthAdjust="spacingAndGlyphs" x="1497.3" y="1019.7">0</text>
<text font-size="23.6" textLength="33.16" lengthAdjust="spacingAndGlyphs" x="1631.57" y="1019.7">0.5</text>
<text font-size="23.6" textLength="31.27" lengthAdjust="spacingAndGlyphs" x="1775.03" y="1019.7">1.0</text>
<text font-size="23.6" textLength="30.85" lengthAdjust="spacingAndGlyphs" x="1918.31" y="1019.7">1.5</text>
<text font-size="23.6" textLength="79.22" lengthAdjust="spacingAndGlyphs" x="1386.09" y="581.4">Injuries</text>
<text font-size="23.6" textLength="63.56" lengthAdjust="spacingAndGlyphs" x="1387.86" y="608.4"><tspan font-style="italic">n</tspan> = 83</text>
<text font-size="23.6" textLength="55.05" lengthAdjust="spacingAndGlyphs" x="1504.57" y="930.7">2.5th</text>
<text font-size="23.6" textLength="52.11" lengthAdjust="spacingAndGlyphs" x="1667.07" y="930.7">50th</text>
<text font-size="23.6" textLength="65.68" lengthAdjust="spacingAndGlyphs" x="1798.88" y="930.7">97.5th</text>
<text font-size="23.6" textLength="104.98" lengthAdjust="spacingAndGlyphs" x="2063.71" y="785.5">Theil–Sen</text>
<text font-size="23.6" textLength="92.01" lengthAdjust="spacingAndGlyphs" x="2063.02" y="912.05">Quantile</text>
<text font-size="23.4" textLength="159.36" lengthAdjust="spacingAndGlyphs" x="1881.46" y="571.9">Tail probability</text>
<linearGradient id="cbC" x1="0" y1="0" x2="0" y2="1">
<stop offset="0" stop-color="#32307d"/>
<stop offset="0.05" stop-color="#3c2891"/>
<stop offset="0.1" stop-color="#462896"/>
<stop offset="0.17" stop-color="#5a289e"/>
<stop offset="0.22" stop-color="#701ea5"/>
<stop offset="0.28" stop-color="#7d1eaa"/>
<stop offset="0.35" stop-color="#9b2daf"/>
<stop offset="0.4" stop-color="#aa2daa"/>
<stop offset="0.43" stop-color="#be32a0"/>
<stop offset="0.47" stop-color="#be417d"/>
<stop offset="0.52" stop-color="#d25573"/>
<stop offset="0.58" stop-color="#e66969"/>
<stop offset="0.65" stop-color="#f57d55"/>
<stop offset="0.72" stop-color="#fc9146"/>
<stop offset="0.8" stop-color="#fdaa3c"/>
<stop offset="0.87" stop-color="#fcb937"/>
<stop offset="0.93" stop-color="#f5d737"/>
<stop offset="1" stop-color="#eee837"/>
</linearGradient>
<rect x="1885.6" y="580.2" width="28.6" height="141.8" fill="url(#cbC)"/>
<path d="M1908.3,721.5H1914.2M1908.3,693.2H1914.2M1908.3,664.9H1914.2M1908.3,636.6H1914.2M1908.3,608.3H1914.2" stroke="#fff" stroke-width="1" fill="none"/>
<text font-size="19.3" textLength="12.73" lengthAdjust="spacingAndGlyphs" x="1920.41" y="726.5">0</text>
<text font-size="19.3" textLength="28.36" lengthAdjust="spacingAndGlyphs" x="1920.5" y="670.6">0.2</text>
<text font-size="19.3" textLength="29" lengthAdjust="spacingAndGlyphs" x="1920.49" y="614">0.4</text>
<text font-size="27.6" textLength="203.56" lengthAdjust="spacingAndGlyphs" transform="translate(1353.8,864.79) rotate(-90)">Regression type</text>
</g>
<text font-size="38.5" textLength="23.98" lengthAdjust="spacingAndGlyphs" x="1332.82" y="549.5" font-weight="bold" style="fill:#000">c</text>
<text x="1548.2" y="1064.5" font-size="27.6" textLength="333.6" lengthAdjust="spacingAndGlyphs">Computed slope (doy yr<tspan font-size="16" dy="-10">−1</tspan><tspan dy="10">)</tspan></text>
</svg>
</body></html>
